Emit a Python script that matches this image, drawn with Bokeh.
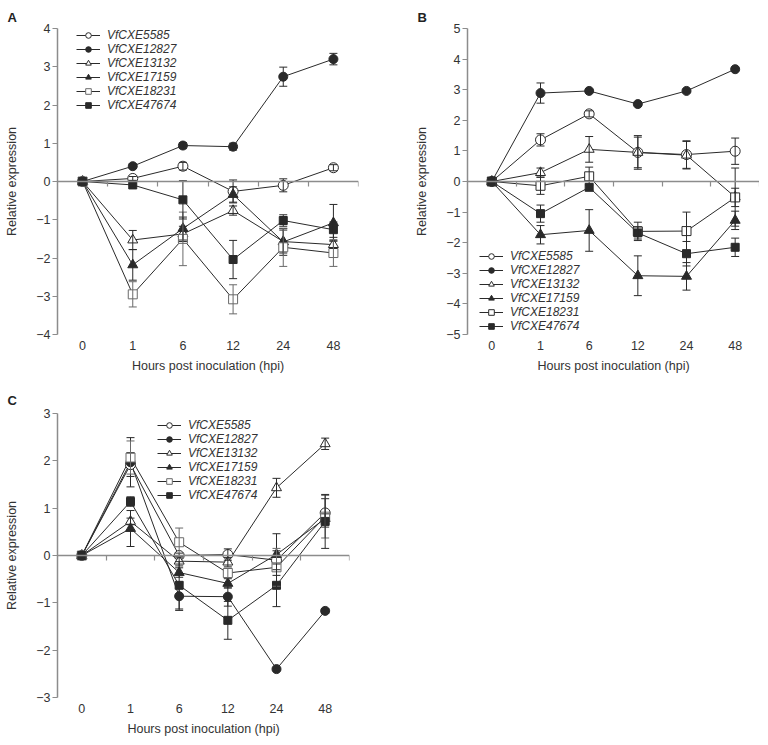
import numpy as np
from bokeh.plotting import figure
from bokeh.models import (Range1d, FixedTicker, LinearAxis, Whisker, TeeHead,
                          ColumnDataSource, Legend, LegendItem, CustomJSTickFormatter)
from bokeh.layouts import column, row
from bokeh.embed import file_html
from bokeh.resources import INLINE

# ---------------- data ----------------
hours = ["0", "1", "6", "12", "24", "48"]
genes = ["VfCXE5585", "VfCXE12827", "VfCXE13132", "VfCXE17159", "VfCXE18231", "VfCXE47674"]

# Panel A
a_5585 = [0, 0.08, 0.40, -0.26, -0.10, 0.36]
a_5585_err = [0, 0.05, 0.10, 0.30, 0.17, 0.08]
a_12827 = [0, 0.40, 0.94, 0.91, 2.74, 3.20]
a_12827_err = [0, 0.06, 0.08, 0.09, 0.25, 0.15]
a_13132 = [0, -1.53, -1.37, -0.76, -1.57, -1.65]
a_13132_err = [0, 0.25, 0.20, 0.12, 0.30, 0.10]
a_17159 = [0, -2.18, -1.23, -0.34, -1.58, -1.08]
a_17159_err = [0, 0.40, 0.30, 0.20, 0.35, 0.48]
a_18231 = [0, -2.95, -1.50, -3.08, -1.72, -1.87]
a_18231_err = [0, 0.33, 0.70, 0.38, 0.50, 0.35]
a_47674 = [0, -0.09, -0.48, -2.04, -1.02, -1.26]
a_47674_err = [0, 0.03, 0.50, 0.50, 0.15, 0.20]

# Panel B
b_5585 = [0, 1.36, 2.21, 0.95, 0.88, 0.99]
b_5585_err = [0, 0.20, 0.10, 0.50, 0.45, 0.43]
b_12827 = [0, 2.89, 2.96, 2.53, 2.96, 3.67]
b_12827_err = [0, 0.33, 0.05, 0.05, 0.05, 0.05]
b_13132 = [0, 0.29, 1.05, 0.95, 0.86, -0.51]
b_13132_err = [0, 0.15, 0.42, 0.55, 0.45, 0.95]
b_17159 = [0, -1.74, -1.60, -3.08, -3.10, -1.27]
b_17159_err = [0, 0.30, 0.68, 0.65, 0.45, 0.30]
b_18231 = [0, -0.14, 0.17, -1.63, -1.62, -0.52]
b_18231_err = [0, 0.28, 0.30, 0.30, 0.62, 0.30]
b_47674 = [0, -1.05, -0.19, -1.68, -2.36, -2.15]
b_47674_err = [0, 0.28, 0.10, 0.20, 0.40, 0.30]

# Panel C
c_5585 = [0, 1.92, 0.00, 0.02, -0.10, 0.90]
c_5585_err = [0, 0.25, 0.05, 0.12, 0.20, 0.30]
c_12827 = [0, 1.97, -0.86, -0.87, -2.40, -1.17]
c_12827_err = [0, 0.52, 0.30, 0.20, 0.03, 0.05]
c_13132 = [0, 0.72, -0.12, -0.14, 1.43, 2.36]
c_13132_err = [0, 0.07, 0.10, 0.10, 0.20, 0.12]
c_17159 = [0, 0.57, -0.36, -0.59, 0.02, 0.78]
c_17159_err = [0, 0.38, 0.10, 0.10, 0.44, 0.10]
c_18231 = [0, 2.07, 0.28, -0.37, -0.25, 0.82]
c_18231_err = [0, 0.35, 0.30, 0.10, 0.40, 0.45]
c_47674 = [0, 1.14, -0.63, -1.37, -0.63, 0.72]
c_47674_err = [0, 0.10, 0.50, 0.40, 0.45, 0.57]

panel_a = [(a_5585, a_5585_err), (a_12827, a_12827_err), (a_13132, a_13132_err),
           (a_17159, a_17159_err), (a_18231, a_18231_err), (a_47674, a_47674_err)]
panel_b = [(b_5585, b_5585_err), (b_12827, b_12827_err), (b_13132, b_13132_err),
           (b_17159, b_17159_err), (b_18231, b_18231_err), (b_47674, b_47674_err)]
panel_c = [(c_5585, c_5585_err), (c_12827, c_12827_err), (c_13132, c_13132_err),
           (c_17159, c_17159_err), (c_18231, c_18231_err), (c_47674, c_47674_err)]

# ---------------- style ----------------
LINE = "#2a2a2a"
GREY = "#6a6a6a"
AXIS = "#8c8c8c"
TEXT = "#333333"
FONT = "Liberation Sans"

MARKERS = {
    "VfCXE5585": ("circle", "white", 10),
    "VfCXE12827": ("circle", LINE, 9),
    "VfCXE13132": ("triangle", "white", 10),
    "VfCXE17159": ("triangle", LINE, 10),
    "VfCXE18231": ("square", "white", 9),
    "VfCXE47674": ("square", LINE, 8),
}

minus_fmt = CustomJSTickFormatter(code="return tick < 0 ? '\u2212' + Math.abs(tick) : String(tick);")


def make_panel(letter, series, ylo, yhi, fw, fh, bl, br, bt, bb, legend_xy, grey_square, title_standoff):
    n = len(hours)
    xs = np.arange(n) + 0.5
    p = figure(frame_width=fw, frame_height=fh,
               x_range=Range1d(0, n), y_range=Range1d(ylo, yhi),
               output_backend="svg", toolbar_location=None,
               min_border_left=bl, min_border_right=br,
               min_border_top=bt, min_border_bottom=bb)
    p.outline_line_color = None
    p.xgrid.visible = False
    p.ygrid.visible = False
    p.background_fill_color = "white"
    p.border_fill_color = "white"

    # panel letter
    p.title.text = letter
    p.title.align = "left"
    p.title.offset = -50
    p.title.text_font = FONT
    p.title.text_font_size = "13px"
    p.title.text_font_style = "bold"
    p.title.text_color = "#222222"
    p.title.standoff = title_standoff

    # category label axis
    xa = p.xaxis[0]
    xa.ticker = FixedTicker(ticks=list(xs))
    xa.formatter = CustomJSTickFormatter(args=dict(labels=hours),
                                         code="return labels[Math.floor(tick)];")
    xa.axis_line_color = None
    xa.major_tick_line_color = None
    xa.minor_tick_line_color = None
    xa.major_tick_out = 0
    xa.major_label_standoff = 6
    xa.major_label_text_font = FONT
    xa.major_label_text_font_size = "12.5px"
    xa.major_label_text_color = TEXT
    xa.axis_label = "Hours post inoculation (hpi)"
    xa.axis_label_standoff = 6
    xa.axis_label_text_font = FONT
    xa.axis_label_text_font_size = "12.5px"
    xa.axis_label_text_font_style = "normal"
    xa.axis_label_text_color = TEXT

    # zero line axis with boundary ticks
    zax = LinearAxis(fixed_location=0, ticker=FixedTicker(ticks=list(range(1, n + 1))),
                     axis_line_color=AXIS, axis_line_width=1.5,
                     major_tick_line_color=AXIS, major_tick_line_width=1.2,
                     major_tick_in=0, major_tick_out=5,
                     minor_tick_line_color=None, major_label_text_alpha=0,
                     major_label_text_font_size="1px")
    p.add_layout(zax, "below")

    ya = p.yaxis[0]
    ya.ticker = FixedTicker(ticks=list(range(ylo, yhi + 1)))
    ya.formatter = minus_fmt
    ya.axis_line_color = AXIS
    ya.axis_line_width = 1.5
    ya.major_tick_line_color = AXIS
    ya.major_tick_line_width = 1.2
    ya.major_tick_in = 0
    ya.major_tick_out = 5
    ya.minor_tick_line_color = None
    ya.major_label_standoff = 2
    ya.major_label_text_font = FONT
    ya.major_label_text_font_size = "12.5px"
    ya.major_label_text_color = TEXT
    ya.axis_label = "Relative expression"
    ya.axis_label_standoff = 14
    ya.axis_label_text_font = FONT
    ya.axis_label_text_font_size = "12.5px"
    ya.axis_label_text_font_style = "normal"
    ya.axis_label_text_color = TEXT

    items = []
    lines = {}
    for gene, (mean, err) in zip(genes, series):
        src = ColumnDataSource(dict(x=xs, y=mean))
        lines[gene] = p.line("x", "y", source=src, line_color=LINE, line_width=1)
    marks = {}
    for gene, (mean, err) in zip(genes, series):
        marker, fill, size = MARKERS[gene]
        col = GREY if (gene == "VfCXE18231" and grey_square) else LINE
        src = ColumnDataSource(dict(x=xs, y=mean))
        marks[gene] = p.scatter("x", "y", source=src, marker=marker, size=size,
                                fill_color=fill, line_color=col, line_width=1)
    for gene, (mean, err) in zip(genes, series):
        col = GREY if (gene == "VfCXE18231" and grey_square) else LINE
        m = np.array(mean, dtype=float)
        e = np.array(err, dtype=float)
        keep = e > 0
        wsrc = ColumnDataSource(dict(x=xs[keep], up=(m + e)[keep], lo=(m - e)[keep]))
        w = Whisker(base="x", upper="up", lower="lo", source=wsrc, level="glyph",
                    line_color=col, line_width=1,
                    upper_head=TeeHead(size=8, line_color=col, line_width=1),
                    lower_head=TeeHead(size=8, line_color=col, line_width=1))
        p.add_layout(w)

    for gene in genes:
        items.append(LegendItem(label=gene, renderers=[lines[gene], marks[gene]]))
    leg = Legend(items=items, location=legend_xy, orientation="vertical",
                 background_fill_alpha=0, border_line_color=None,
                 padding=0, margin=0, spacing=0,
                 glyph_width=24, glyph_height=14, label_height=14,
                 label_standoff=7, label_text_font=FONT, label_text_font_size="12px",
                 label_text_font_style="italic", label_text_color=TEXT)
    p.add_layout(leg)
    return p


pA = make_panel("A", panel_a, -4, 4, 301, 306, 57, 24, 28, 46, (19, 222), True, 8)
pB = make_panel("B", panel_b, -5, 5, 292, 306, 85, 0, 28, 46, (12, 1), False, 8)
pC = make_panel("C", panel_c, -3, 3, 292, 284, 57, 33, 33, 39, (100, 195), True, 11)

layout = column(row(pA, pB), pC)
open("out.html", "w").write(file_html(layout, INLINE))
